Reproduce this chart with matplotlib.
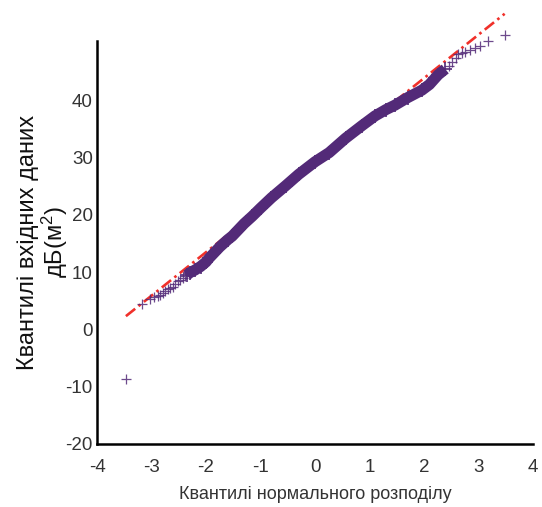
import matplotlib.pyplot as plt

# normal quantiles (x) against sorted sample values in dB(m^2) (y)
tail_lo_x = [-3.47, -3.18, -3.02, -2.95, -2.89, -2.84, -2.79, -2.75, -2.70,
             -2.66, -2.61, -2.56, -2.52, -2.47, -2.43, -2.38]
tail_lo_y = [-8.6, 4.4, 5.3, 5.6, 5.8, 6.1, 6.4, 6.7, 7.0,
             7.3, 7.5, 8.0, 8.4, 8.7, 9.0, 9.3]

body_x = [-2.35, -2.30, -2.20, -2.10, -2.00, -1.94, -1.85, -1.75, -1.60,
          -1.52, -1.40, -1.30, -1.15, -1.00, -0.80, -0.54, -0.30, 0.00,
          0.26, 0.56, 0.86, 1.10, 1.30, 1.47, 1.70, 1.96, 2.10, 2.26, 2.39]
body_y = [9.5, 9.9, 10.4, 11.0, 11.8, 12.5, 13.4, 14.4, 15.7,
          16.3, 17.5, 18.5, 19.8, 21.2, 23.0, 25.1, 27.1, 29.3,
          30.9, 33.4, 35.6, 37.3, 38.4, 39.2, 40.5, 41.8, 42.8, 44.5, 45.5]

tail_hi_x = [2.45, 2.52, 2.58, 2.63, 2.69, 2.75, 2.84, 2.94, 3.03, 3.18, 3.48]
tail_hi_y = [46.0, 46.8, 47.5, 48.2, 48.3, 48.5, 48.8, 49.1, 49.6, 50.4, 51.4]

# reference line through the quartiles
fit_intercept = 28.7
fit_slope = 7.6
fit_x = [-3.47, 3.48]

purple = '#532a78'
plt.rcParams['font.family'] = ['Liberation Sans', 'DejaVu Sans']
plt.rcParams['mathtext.default'] = 'regular'
plt.rcParams['axes.unicode_minus'] = False

fig = plt.figure(figsize=(5.42, 5.07), dpi=100)
ax = fig.add_axes([0.179, 0.1243, 0.8044, 0.7949])

fit_y = [fit_intercept + fit_slope * v for v in fit_x]
line, = ax.plot(fit_x, fit_y, color='#f0302a', lw=1.9, clip_on=False, zorder=2)
line.set_dashes([4.5, 1.6, 1, 1.6])

ax.plot(body_x, body_y, color=purple, lw=8, solid_capstyle='butt',
        solid_joinstyle='round', zorder=3)
ax.plot(body_x, body_y, ls='none', marker='+', ms=9.5, mew=1.2,
        color=purple, zorder=3)
ax.plot(tail_lo_x, tail_lo_y, ls='none', marker='+', ms=6.5, mew=0.9,
        color=purple, alpha=0.85, clip_on=False, zorder=3)
ax.plot(tail_hi_x, tail_hi_y, ls='none', marker='+', ms=6.5, mew=0.9,
        color=purple, alpha=0.85, clip_on=False, zorder=3)

ax.set_xlim(-4, 4)
ax.set_ylim(-20, 50.4)
ax.set_xticks(range(-4, 5))
ax.set_yticks(range(-20, 41, 10))

for s in ['top', 'right']:
    ax.spines[s].set_visible(False)
for s in ['left', 'bottom']:
    ax.spines[s].set_linewidth(1.8)

ax.tick_params(axis='both', length=0, labelcolor='#333333', labelsize=13.5)
ax.tick_params(axis='x', pad=11)
ax.tick_params(axis='y', pad=3)

ax.set_xlabel('Квантилі нормального розподілу', fontsize=13,
              color='#333333', labelpad=7)
ax.set_ylabel('Квантилі вхідних даних\nдБ(м$^2$)', fontsize=17,
              color='#111111', labelpad=-3, linespacing=1.0)

fig.savefig('out.png', dpi=100)
